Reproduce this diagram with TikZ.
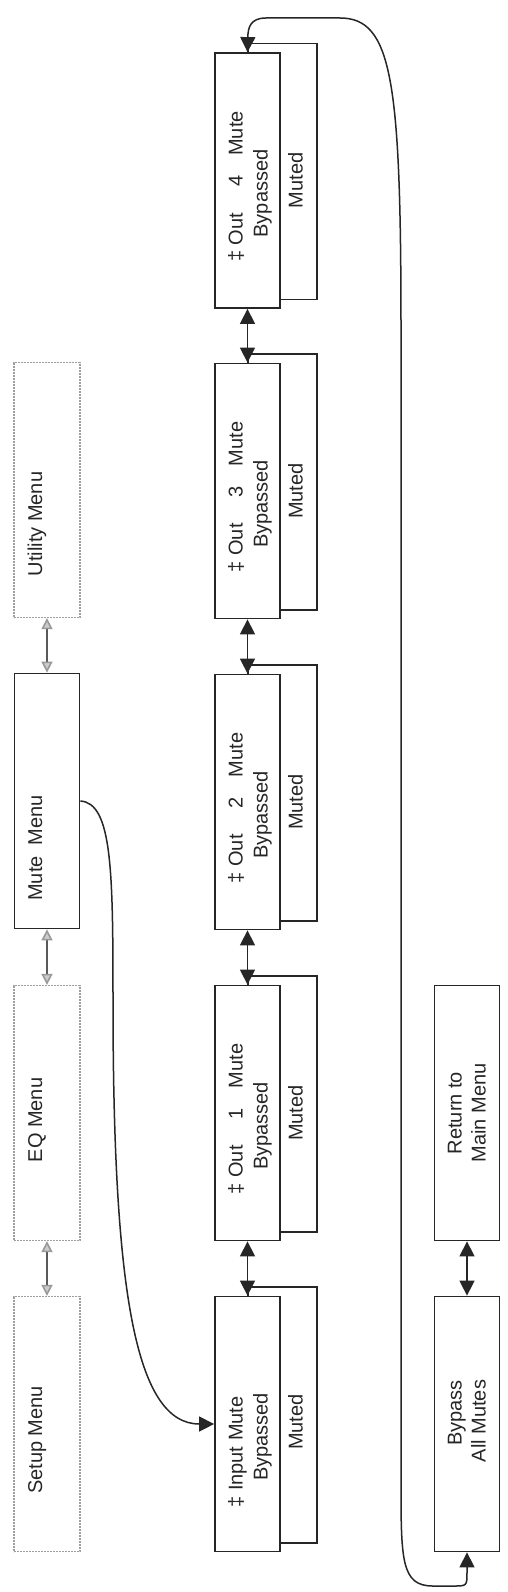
\documentclass[tikz,border=0pt]{standalone}
\usepackage{fontspec}
\setmainfont{Liberation Sans}
\usetikzlibrary{arrows.meta}
\begin{document}
\begin{tikzpicture}[x=1pt,y=-1pt,
  font=\fontsize{20}{23}\selectfont,
  menubox/.style={draw=gray!75, line width=1.3pt, dash pattern=on 2pt off 1pt, minimum width=66pt, minimum height=255pt, inner sep=0pt, fill=white},
  solidbox/.style={draw=black!85, line width=1.8pt, minimum width=65pt, minimum height=255pt, inner sep=0pt, fill=white},
  backbox/.style={draw=black!85, line width=1.8pt, minimum width=69pt, minimum height=256pt, inner sep=0pt, fill=white},
  txt/.style={rotate=90, anchor=base, inner sep=0pt, text=black!85},
  link/.style={line width=1.5pt, draw=black!85, {Triangle[length=15pt,width=15pt]}-{Triangle[length=15pt,width=15pt]}},
  glink/.style={line width=1.6pt, draw=black!65, {Triangle[length=11pt,width=11pt,fill=gray!40,color=gray!80]}-{Triangle[length=11pt,width=11pt,fill=gray!40,color=gray!80]}},
  curve/.style={line width=1.5pt, draw=black!85, -{Triangle[length=15pt,width=15pt]}}
]
\useasboundingbox (0,0) rectangle (507,1592);
\fill[white] (0,0) rectangle (507,1592);

% left column
\node[menubox] (util) at (47,490) {};
\node[solidbox] (mute) at (47,801) {};
\node[menubox] (eq) at (47,1113) {};
\node[menubox] (setup) at (47,1424) {};
\node[txt] (tutil) at (42,524) {Utility Menu};
\node[txt] (tmute) at (42,848) {Mute\hspace{11pt}Menu};
\node[txt] (teq) at (42,1120) {EQ Menu};
\node[txt] (tsetup) at (42,1440) {Setup Menu};
\draw[glink] (util.south) -- (mute.north);
\draw[glink] (mute.south) -- (eq.north);
\draw[glink] (eq.south) -- (setup.north);

% middle column: back boxes
\node[backbox] (b4) at (282.5,171.5) {};
\node[backbox] (b3) at (282.5,482) {};
\node[backbox] (b2) at (282.5,793) {};
\node[backbox] (b1) at (282.5,1104) {};
\node[backbox] (bin) at (282.5,1415) {};
% main boxes
\node[solidbox] (o4) at (247.5,180.5) {};
\node[solidbox] (o3) at (247.5,491) {};
\node[solidbox] (o2) at (247.5,802) {};
\node[solidbox] (o1) at (247.5,1113) {};
\node[solidbox] (in) at (247.5,1424) {};

\node[txt] (t4a) at (242.5,186.5) {‡ Out\hspace{26pt}4\hspace{20pt}Mute};
\node[txt] (t4b) at (267.5,193.5) {Bypassed};
\node[txt] (t4c) at (302.5,180.5) {Muted};
\node[txt] (t3a) at (242.5,497) {‡ Out\hspace{26pt}3\hspace{20pt}Mute};
\node[txt] (t3b) at (267.5,504) {Bypassed};
\node[txt] (t3c) at (302.5,491) {Muted};
\node[txt] (t2a) at (242.5,808) {‡ Out\hspace{26pt}2\hspace{20pt}Mute};
\node[txt] (t2b) at (267.5,815) {Bypassed};
\node[txt] (t2c) at (302.5,802) {Muted};
\node[txt] (t1a) at (242.5,1119) {‡ Out\hspace{26pt}1\hspace{20pt}Mute};
\node[txt] (t1b) at (267.5,1126) {Bypassed};
\node[txt] (t1c) at (302.5,1113) {Muted};
\node[txt] (tina) at (242.5,1452) {‡ Input Mute};
\node[txt] (tinb) at (267.5,1437) {Bypassed};
\node[txt] (tinc) at (302.5,1422) {Muted};

\draw[link] (o4.south) -- (o3.north);
\draw[link] (o3.south) -- (o2.north);
\draw[link] (o2.south) -- (o1.north);
\draw[link] (o1.south) -- (in.north);

% right column
\node[solidbox] (ret) at (467,1113) {};
\node[solidbox] (byp) at (467,1424) {};
\node[txt] (treta) at (461.5,1113) {Return to};
\node[txt] (tretb) at (485.5,1113) {Main Menu};
\node[txt] (tbypa) at (461.5,1413) {Bypass};
\node[txt] (tbypb) at (485.5,1421) {All Mutes};
\draw[link] (ret.south) -- (byp.north);

% curved connectors
\draw[curve] (mute.east) .. controls (112,803) and (113,870) .. (113,1000)
  .. controls (113,1290) and (135,1424) .. (in.west);
\draw[link] (byp.south) -- (467,1572) .. controls (467,1586) .. (453,1586) -- (433,1586)
  .. controls (401,1586) and (401,1560) .. (401,1480) -- (401,330)
  .. controls (401,80) and (392,18) .. (340,18) -- (266,18)
  .. controls (250,18) and (248,28) .. (o4.north);
\end{tikzpicture}
\end{document}
